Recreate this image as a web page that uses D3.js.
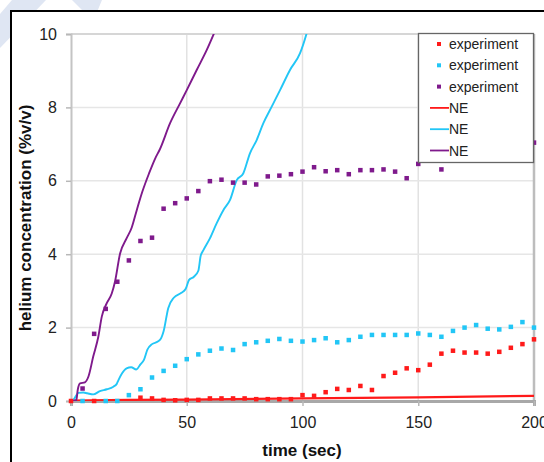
<!DOCTYPE html>
<html lang="en">
<head>
<meta charset="UTF-8">
<title>Helium concentration</title>
<script src="https://d3js.org/d3.v7.min.js"></script>
<style>
  body { margin: 0; background: #fff; }
  text { font-family: "Liberation Sans", Arial, sans-serif; }
</style>
</head>
<body>
<svg id="chart" width="544" height="462"></svg>
<script>
// experiment series (time in sec, concentration %v/v)
const redTime = [0,10,30,35,40,45,50,55,60,65,70,75,80,85,90,95,100,105,110,115,120,125,130,135,140,145,150,155,160,165,170,175,180,185,190,195,200];
const redValues = [0,0,0.09,0.07,0.03,0.02,0.03,0.03,0.07,0.07,0.07,0.07,0.05,0.05,0.05,0.05,0.16,0.14,0.24,0.33,0.30,0.41,0.30,0.68,0.77,0.89,0.84,0.99,1.29,1.37,1.32,1.32,1.29,1.34,1.45,1.55,1.68];

const cyanTime = [5,15,20,25,30,35,40,45,50,55,60,65,70,75,80,85,90,95,100,105,110,115,120,125,130,135,140,145,150,155,160,165,170,175,180,185,190,195,200];
const cyanValues = [0,0,0,0.16,0.32,0.64,0.82,0.96,1.14,1.27,1.37,1.43,1.39,1.55,1.60,1.64,1.69,1.64,1.62,1.66,1.71,1.60,1.66,1.75,1.80,1.80,1.80,1.80,1.84,1.80,1.75,1.91,2.00,2.07,1.97,1.95,2.02,2.15,2.00];

const purpleTime = [5,10,15,20,25,30,35,40,45,50,55,60,65,70,75,80,85,90,95,100,105,110,115,120,125,130,135,140,145,150,155,160,165,170,175,180,185,190,195,200];
const purpleValues = [0.34,1.83,2.51,3.25,3.83,4.36,4.45,5.24,5.39,5.52,5.72,5.99,6.03,5.95,5.95,5.90,6.12,6.14,6.18,6.25,6.37,6.26,6.29,6.18,6.29,6.29,6.31,6.25,6.07,6.46,6.60,6.31,6.70,6.80,6.75,6.90,6.85,6.95,7.00,7.04];

// NE model curves
const neRed = [[0,0.01],[25,0.03],[50,0.04],[100,0.07],[150,0.10],[200,0.14]];
const neCyan = [[0,0],[1,0.03],[3.2,0.22],[5.3,0.23],[7,0.21],[9.6,0.18],[12.5,0.27],[15.5,0.32],[18.3,0.39],[19.7,0.46],[20.5,0.57],[22,0.75],[24,0.89],[26,0.92],[28.2,0.86],[30,1.0],[31.5,1.12],[33,1.4],[35,1.55],[37.5,1.62],[39,1.72],[40,1.9],[42,2.53],[44.5,2.82],[47.5,2.94],[49.5,3.05],[51,3.3],[53,3.38],[55,3.55],[56,3.95],[57.2,4.11],[60,4.43],[62.9,4.84],[65.8,5.2],[68.7,5.48],[71.6,6.02],[74.4,6.2],[77.3,6.75],[80.2,7.11],[83.1,7.57],[86.7,8.02],[90.3,8.47],[94.6,9.02],[98.9,9.47],[101.8,10.02],[103,10.3]];
const nePurple = [[0,0],[2.3,0.02],[2.9,0.3],[3.9,0.48],[6,0.51],[7.5,0.66],[9.6,1.21],[11.8,1.75],[13.3,2.3],[15.4,2.66],[17.6,2.93],[19,3.25],[21.2,4.02],[24,4.43],[26.2,4.72],[28.4,5.2],[30.8,5.7],[33.7,6.2],[36.3,6.6],[38.4,6.86],[42.8,7.57],[47.1,8.11],[50,8.47],[54.3,9.02],[58.6,9.56],[61.8,10.02],[63,10.2]];

const xTicks = [0,50,100,150,200];
const yTicks = [0,2,4,6,8,10];
const legendLabels = ["experiment","experiment","experiment","NE","NE","NE"];

const RED = "#ff1a1a", CYAN = "#22c6f6", PURPLE = "#7f1a8c";

const svg = d3.select("#chart");

// faded watermark behind the chart frame
svg.append("polygon").attr("points", "12,0 46,0 0,48 0,14").attr("fill", "#dfe6f3");
svg.append("polygon").attr("points", "72,0 102,0 97,12 84,12").attr("fill", "#dfe6f3");

// chart frame
svg.append("rect").attr("x", 11).attr("y", 11).attr("width", 700).attr("height", 700)
  .attr("fill", "#fff").attr("stroke", "#000").attr("stroke-width", 2);

const x = d3.scaleLinear().domain([0, 200]).range([71, 534]);
const y = d3.scaleLinear().domain([0, 10]).range([401, 34]);

// gridlines
svg.append("g").selectAll("line").data(xTicks.slice(1, -1)).enter().append("line")
  .attr("x1", d => x(d)).attr("x2", d => x(d)).attr("y1", y(10)).attr("y2", y(0))
  .attr("stroke", "#e2e2e2").attr("stroke-width", 1.5);
svg.append("g").selectAll("line").data(yTicks.slice(1)).enter().append("line")
  .attr("x1", x(0)).attr("x2", x(200)).attr("y1", d => y(d)).attr("y2", d => y(d))
  .attr("stroke", d => d === 10 ? "#d6d6d6" : "#e6e6e6").attr("stroke-width", d => d === 10 ? 2 : 1.5);
// right border of plot
svg.append("line").attr("x1", x(200)).attr("x2", x(200)).attr("y1", y(10)).attr("y2", y(0))
  .attr("stroke", "#bdbdbd").attr("stroke-width", 2.5);

// axes
const yAxis = svg.append("g").attr("transform", `translate(${x(0)},0)`)
  .call(d3.axisLeft(y).tickValues(yTicks).tickSize(5).tickPadding(9));
const xAxis = svg.append("g").attr("transform", `translate(0,${y(0)})`)
  .call(d3.axisBottom(x).tickValues(xTicks).tickSize(5).tickPadding(11));
yAxis.select(".domain").attr("stroke", "#c4c4c4").attr("stroke-width", 2);
xAxis.select(".domain").attr("stroke", "#a8a8a8").attr("stroke-width", 3);
[yAxis, xAxis].forEach(a => {
  a.selectAll(".tick line").attr("stroke", "#b8b8b8").attr("stroke-width", 1.5);
  a.selectAll(".tick text").attr("fill", "#222").style("font-size", "16px")
    .style("font-family", "'Liberation Sans', Arial, sans-serif");
});

// axis titles
svg.append("text").attr("x", 302).attr("y", 456).attr("text-anchor", "middle")
  .style("font-size", "17px").style("font-weight", "bold").attr("fill", "#111").text("time (sec)");
svg.append("text").attr("transform", "translate(31,218) rotate(-90)").attr("text-anchor", "middle")
  .style("font-size", "17px").style("font-weight", "bold").attr("fill", "#111").text("helium concentration (%v/v)");

// clip for plot area
svg.append("clipPath").attr("id", "plot").append("rect")
  .attr("x", x(0)).attr("y", y(10)).attr("width", x(200) - x(0)).attr("height", y(0) - y(10));
const plot = svg.append("g").attr("clip-path", "url(#plot)");

const line = d3.line().x(d => x(d[0])).y(d => y(d[1]));
const sq = 4.5;
function dots(times, vals, color) {
  svg.append("g").selectAll("rect").data(times.map((t, i) => [t, vals[i]])).enter().append("rect")
    .attr("x", d => x(d[0]) - sq / 2).attr("y", d => y(d[1]) - sq / 2)
    .attr("width", sq).attr("height", sq).attr("fill", color);
}
dots(redTime, redValues, RED);
dots(cyanTime, cyanValues, CYAN);
dots(purpleTime, purpleValues, PURPLE);

plot.append("path").datum(neRed).attr("d", line).attr("fill", "none").attr("stroke", RED).attr("stroke-width", 2.2);
plot.append("path").datum(neCyan).attr("d", line.curve(d3.curveMonotoneX)).attr("fill", "none").attr("stroke", CYAN).attr("stroke-width", 1.9);
plot.append("path").datum(nePurple).attr("d", line.curve(d3.curveMonotoneX)).attr("fill", "none").attr("stroke", PURPLE).attr("stroke-width", 1.9);

// legend
const lg = svg.append("g");
lg.append("rect").attr("x", 418.5).attr("y", 33.5).attr("width", 115).attr("height", 129)
  .attr("fill", "#fff").attr("stroke", "#666").attr("stroke-width", 1.3);
const legendColors = [RED, CYAN, PURPLE, RED, CYAN, PURPLE];
legendLabels.forEach((lab, i) => {
  const cy = 44 + i * 21.3;
  if (i < 3) {
    lg.append("rect").attr("x", 439 - 2).attr("y", cy - 2).attr("width", 4).attr("height", 4).attr("fill", legendColors[i]);
  } else {
    lg.append("line").attr("x1", 430).attr("x2", 449).attr("y1", cy).attr("y2", cy)
      .attr("stroke", legendColors[i]).attr("stroke-width", 1.8);
  }
  lg.append("text").attr("x", 449).attr("y", cy + 5).style("font-size", "14px").attr("fill", "#222").text(lab);
});
</script>
</body>
</html>
